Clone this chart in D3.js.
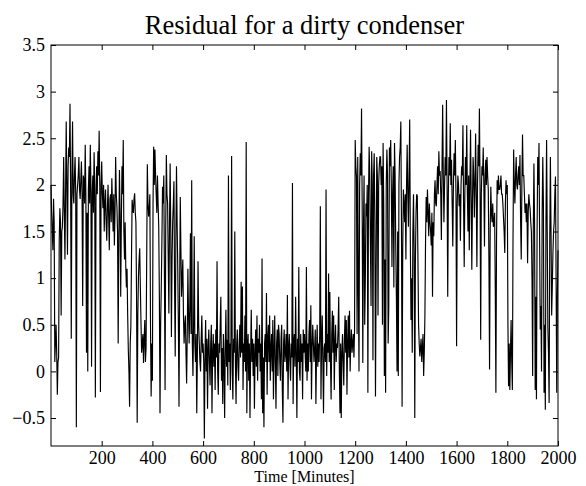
<!DOCTYPE html>
<html><head><meta charset="utf-8">
<script src="https://cdn.jsdelivr.net/npm/d3@7"></script>
<style>body{margin:0;background:#fff} svg{display:block} text{font-family:"Liberation Serif","Times New Roman",serif;fill:#000}</style>
</head><body><svg id="c" width="586" height="486"></svg>
<script>
const titleText = "Residual for a dirty condenser";
const xLabelText = "Time [Minutes]";
const sampleStep = 2.5; // minutes between samples
const residual = [
 2.0, 1.7, 1.5, 1.3, 1.85, 1.6, 0.1, 0.3, 0.5, 0.2, -0.25, 0.1, 0.15, 1.4, 1.75, 1.6, 0.6, 1.5, 1.55, 1.8, 2.3, 1.7, 1.2, 1.9, 2.68, 2.0, 1.25, 2.2, 2.4, 2.3, 2.87, 1.9, 0.35, 2.1, 2.68, 1.9, 1.8, 2.1, 2.3, 1.9,
 -0.6, 1.9, 2.0, 2.1, 2.3, 1.95, 1.85, 2.05, 2.25, 1.9, 0.7, 2.1, 2.05, 1.8, 2.43, 1.9, 0.2, 1.7, 0.0, 1.95, 2.2, 1.8, 2.43, 2.0, 0.05, 1.9, 2.1, 1.7, 2.35, 2.0, -0.28, 1.85, 2.2, 1.9, 2.36, 2.1, 2.58, 1.95, -0.22, 2.0,
 2.25, 1.9, 1.75, 2.0, 1.5, 1.8, 1.95, 1.6, 1.4, 1.75, 2.0, 1.65, 1.3, 1.85, 1.9, 1.6, 2.07, 1.8, 1.5, 1.9, 1.35, 1.7, 2.3, 1.9, 1.77, 1.5, 0.3, 1.4, 2.16, 1.7, 0.8, 1.6, 2.2, 1.9, 2.48, 1.5, 1.2, 1.6, 1.12, 0.9,
 1.1, 0.6, 0.23, 0.0, -0.38, 0.3, 0.48, 1.2, 1.84, 1.75, 1.7, 1.85, 1.91, 1.7, 1.6, 0.8, -0.55, 0.6, 1.02, 1.2, 1.32, 0.9, 0.52, 0.2, 0.3, 0.4, 0.09, 0.35, 0.55, 0.1, 0.25, 1.2, 2.22, 1.8, 1.66, 1.75, 1.9, 0.5, -0.27, 0.3,
 -0.1, 1.8, 2.41, 2.0, 2.38, 2.1, 1.9, 1.7, 2.1, 1.8, 1.55, 0.8, -0.45, 0.5, 0.9, 1.4, 1.98, 1.8, 2.1, 1.0, -0.2, 1.5, 2.32, 1.9, 1.8, 1.2, 0.62, 1.6, 2.23, 1.5, 0.37, 1.2, 1.6, 1.8, 2.04, 0.9, 0.16, 1.4, 2.2, 1.6,
 1.12, 0.5, -0.38, 0.9, 1.87, 1.3, 0.8, 1.0, 1.2, 0.6, 0.3, 0.5, 0.6, 0.2, -0.13, 0.4, 1.1, 0.6, 0.3, 0.7, 1.48, 0.4, 2.05, 0.3, -0.05, 0.5, 1.45, 0.3, 0.1, 0.4, -0.45, 0.2, 1.18, 0.5, 0.3, 0.1, 0.0, 0.35, 0.6, 0.2,
 0.3, 0.1, -0.72, 0.2, 0.55, 0.0, 0.35, -0.4, 0.25, 0.45, 0.1, -0.15, 0.3, 0.5, -0.45, 0.2, 0.4, 0.05, 0.3, -0.2, 0.45, 0.15, 1.18, 0.0, -0.25, 0.3, 0.2, 0.5, 0.8, -0.1, 0.25, -0.35, 0.4, 0.1, -0.5, 0.3, 0.66, 0.05, 0.34, -0.15,
 2.1, 0.1, 0.3, -0.2, 0.4, 2.31, 0.0, -0.3, 0.35, 0.2, 1.5, 0.1, -0.35, 0.3, 0.45, 0.05, -0.1, 0.3, 0.5, 0.15, 0.96, 0.2, 0.91, -0.2, 0.3, 0.1, 0.6, 0.0, 2.46, -0.45, 0.25, 0.4, -0.1, 0.3, -0.5, 0.2, 0.66, 0.1, 0.35, -0.05,
 0.3, -0.4, 0.2, 0.45, 0.05, 0.6, -0.1, 0.35, 0.2, 0.5, 0.0, 0.3, -0.3, 1.21, -0.45, 0.15, -0.6, 0.3, 0.4, 0.1, 0.84, -0.25, 0.35, 0.5, 0.1, 0.6, -0.1, 0.25, 0.4, 0.0, 0.55, -0.3, 0.2, 0.6, 0.1, -0.4, 0.3, 0.45, -0.05, 0.5,
 0.4, 0.1, -0.1, 0.35, 0.5, -0.2, -0.55, 0.3, 0.45, 0.1, 0.2, 0.4, 0.0, 0.82, -0.3, 0.25, 0.4, 0.1, -0.1, 0.3, 0.15, 2.02, -0.35, 0.3, 0.4, 0.05, 0.8, 0.2, -0.5, 0.35, 0.1, 1.12, 0.0, -0.1, 0.4, 0.1, 0.3, -0.3, 0.45, 0.2,
 0.4, 0.2, 0.0, 1.12, -0.1, 0.3, 0.0, 0.4, 0.55, 0.1, 0.71, -0.3, 0.25, 0.5, 0.3, 0.1, 0.25, 0.45, -0.35, 0.2, 0.5, 0.05, 0.3, 0.1, 0.4, 1.77, -0.3, 0.3, 0.6, 0.1, -0.45, 0.25, 0.3, 0.1, 1.95, -0.05, 0.4, 0.2, 1.05, 0.1,
 0.85, 0.1, -0.3, 0.4, 0.65, 0.2, 0.6, -0.2, 0.3, 0.5, 0.1, 0.3, 0.25, 0.45, 0.8, 0.0, -0.45, 0.3, -0.5, 0.2, 0.4, 0.1, -0.15, 0.35, 0.6, 0.2, 0.55, -0.25, 0.3, 0.6, 0.15, 0.65, 0.0, 0.3, 0.45, 0.2, 0.3, 0.4, 0.15, 0.45,
 2.48, 2.2, 2.09, 0.4, 2.3, 0.9, 0.0, 2.0, 2.34, 2.1, 2.82, 1.8, 0.09, 1.5, 2.1, 0.5, 1.0, 1.8, 1.66, 2.0, -0.23, 1.9, 2.41, 2.1, 1.37, 0.7, 2.36, 2.0, 0.12, 2.1, 2.34, 1.6, -0.27, 1.0, 2.3, 2.1, 0.6, 2.0, 2.2, 2.3,
 2.3, 2.0, 2.2, 0.5, 2.45, 1.8, -0.05, 1.2, -0.23, 2.0, 2.38, 2.1, 0.3, 0.7, 2.4, 2.2, 2.48, 2.0, 1.12, 1.9, 2.2, 0.9, 2.45, 2.1, 1.35, 0.8, 0.0, 1.5, -0.05, 2.0, 2.3, 2.4, 2.68, 1.6, -0.38, 1.3, 1.95, 1.8, 1.6, 1.9,
 1.2, 2.0, 2.43, 1.9, 1.55, 2.1, 2.7, 1.4, 0.55, 1.0, 0.2, 1.5, 1.9, 1.3, -0.5, 1.2, 1.7, 1.9, 1.88, 1.2, 0.5, 0.3, 0.16, 0.25, 0.35, 0.1, 0.25, 0.4, -0.05, 0.2, 0.6, 1.4, 1.87, 1.6, 1.95, 1.7, 1.45, 1.8, 1.6, 1.5,
 1.35, 1.7, 0.8, 1.6, 1.45, 1.9, 2.05, 1.8, 1.77, 2.0, 2.2, 1.9, 2.36, 2.1, 2.15, 1.9, 1.41, 2.2, 2.86, 2.1, 1.6, 2.0, 2.3, 2.1, 2.91, 2.0, 0.8, 1.9, 2.3, 2.1, 2.66, 2.0, 2.27, 1.8, 1.34, 2.0, 2.34, 2.1, 2.48, 1.9,
 0.27, 1.8, 2.1, 2.0, 1.77, 1.9, 1.4, 2.0, 2.2, 2.1, 2.64, 1.8, 1.12, 1.9, 2.3, 2.0, 2.64, 1.9, 1.5, 2.1, 1.3, 2.0, 2.59, 1.9, 1.09, 1.8, 2.3, 2.1, 1.65, 2.0, 2.55, 1.9, 1.12, 2.0, 2.43, 2.2, 2.82, 2.0, 0.34, 1.9,
 2.2, 2.1, 2.4, 2.0, 1.34, 2.1, 2.27, 2.0, 2.3, 2.1, 1.95, 1.2, 0.02, 1.5, 1.98, 1.7, 1.6, 1.8, 1.55, 1.6, 1.7, 0.9, -0.23, 1.4, 2.05, 1.9, 2.1, 1.95, 1.95, 2.0, 2.1, 1.9, 1.9, 1.8, 1.65, 1.5, 1.27, 1.8, 2.05, 1.9,
 2.0, 0.5, -0.16, 0.3, -0.2, 0.2, 0.55, 0.1, -0.2, 1.4, 2.38, 2.0, 1.8, 2.1, 2.3, 2.0, 1.95, 2.1, 2.2, 2.0, 2.32, 1.6, 1.2, 2.0, 2.54, 2.1, 2.1, 1.9, 1.7, 1.8, 1.6, 1.8, 1.16, 1.7, 1.9, 1.8, 1.75, 1.6, 1.5, 1.0,
 -0.05, 1.5, 2.23, 1.6, -0.2, 0.8, -0.3, 1.5, 2.3, 2.0, 2.45, 1.4, 0.45, 0.7, 0.0, 1.7, 2.3, 1.8, -0.23, 0.5, -0.41, 1.6, 2.48, 1.5, 0.48, 0.2, -0.34, 1.4, 2.3, 1.5, 0.6, 0.9, 1.27, 1.5, 1.6, 1.9, 2.09, 1.0, -0.23, 0.8,
 1.3
];
const xTicks = [200, 400, 600, 800, 1000, 1200, 1400, 1600, 1800, 2000];
const yTicks = [-0.5, 0, 0.5, 1, 1.5, 2, 2.5, 3, 3.5];
const yTickLabels = ["\u22120.5", "0", "0.5", "1", "1.5", "2", "2.5", "3", "3.5"];

const svg = d3.select("#c");
const x = d3.scaleLinear().domain([0, 2000]).range([51, 558]);
const y = d3.scaleLinear().domain([-0.8, 3.5]).range([446, 45]);
const tickLen = 5, fs = 18;

const line = d3.line().x((d, i) => x(i * sampleStep)).y(d => y(d));
svg.append("path").datum(residual).attr("d", line)
  .attr("fill", "none").attr("stroke", "#000").attr("stroke-width", 1.15);

function styleAxis(g) {
  g.select(".domain").remove();
  g.selectAll(".tick line").attr("stroke", "#000");
  g.selectAll(".tick text").attr("font-size", fs).attr("font-family", "Liberation Serif, Times New Roman, serif");
}
svg.append("g").attr("transform", `translate(0,${y.range()[0]})`)
  .call(d3.axisBottom(x).tickValues(xTicks).tickSize(-tickLen).tickPadding(5).tickFormat(d3.format("d")))
  .call(styleAxis);
svg.append("g").attr("transform", `translate(0,${y.range()[1]})`)
  .call(d3.axisTop(x).tickValues(xTicks).tickSize(-tickLen).tickFormat(""))
  .call(styleAxis);
svg.append("g").attr("transform", `translate(${x.range()[0]},0)`)
  .call(d3.axisLeft(y).tickValues(yTicks).tickSize(-tickLen).tickPadding(6).tickFormat((d, i) => yTickLabels[i]))
  .call(styleAxis);
svg.append("g").attr("transform", `translate(${x.range()[1]},0)`)
  .call(d3.axisRight(y).tickValues(yTicks).tickSize(-tickLen).tickFormat(""))
  .call(styleAxis);

svg.append("rect").attr("x", x.range()[0]).attr("y", y.range()[1])
  .attr("width", x.range()[1] - x.range()[0]).attr("height", y.range()[0] - y.range()[1])
  .attr("fill", "none").attr("stroke", "#000").attr("stroke-width", 1);

svg.append("text").attr("x", (x.range()[0] + x.range()[1]) / 2).attr("y", 34)
  .attr("text-anchor", "middle").attr("font-size", 26.5).text(titleText);
svg.append("text").attr("x", (x.range()[0] + x.range()[1]) / 2).attr("y", 482.3)
  .attr("text-anchor", "middle").attr("font-size", 16).text(xLabelText);
</script></body></html>
